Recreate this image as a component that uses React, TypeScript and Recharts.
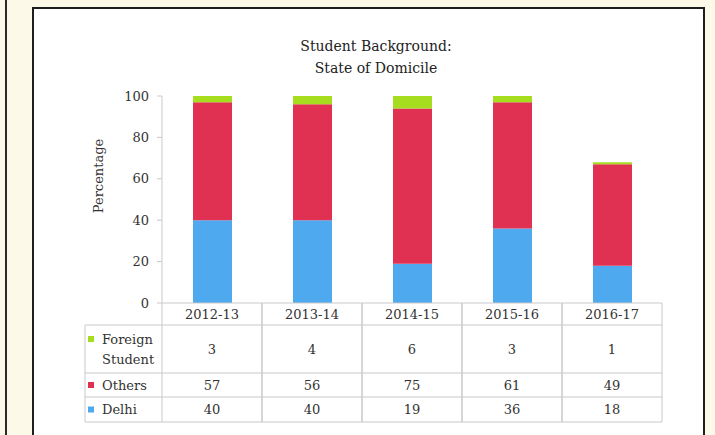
import React from 'react';
import { BarChart, Bar, XAxis, YAxis, Label } from 'recharts';

const categories = ['2012-13', '2013-14', '2014-15', '2015-16', '2016-17'];
const delhiValues = [40, 40, 19, 36, 18];
const othersValues = [57, 56, 75, 61, 49];
const foreignValues = [3, 4, 6, 3, 1];
const yTicks = [0, 20, 40, 60, 80, 100];
const titleLines = ['Student Background:', 'State of Domicile'];
const yAxisTitle = 'Percentage';

const seriesInfo = [
  { key: 'foreign', label: ['Foreign', 'Student'], color: '#a6de1f', values: foreignValues },
  { key: 'others', label: ['Others'], color: '#e03153', values: othersValues },
  { key: 'delhi', label: ['Delhi'], color: '#4ea9ef', values: delhiValues },
];

const data = categories.map((c, i) => ({
  category: c,
  delhi: delhiValues[i],
  others: othersValues[i],
  foreign: foreignValues[i],
}));

const FONT = '"DejaVu Serif", "Liberation Serif", serif';
const TEXT = '#333';
const GRID = '#c9c9c9';

// table row boundaries (offsets below axis line)
const rowBounds = [0, 22, 70, 94, 119];
const HALF = 50;
const LABEL_W = 77;

const TableTick = (props: any) => {
  const { x, y, payload, index } = props;
  const i = categories.indexOf(payload.value);
  const els: React.ReactNode[] = [];
  const bottom = y + rowBounds[4];
  els.push(<line key="vl" x1={x - HALF} x2={x - HALF} y1={y} y2={bottom} stroke={GRID} strokeWidth={1} />);
  els.push(<line key="vr" x1={x + HALF} x2={x + HALF} y1={y} y2={bottom} stroke={GRID} strokeWidth={1} />);
  for (let r = 1; r < rowBounds.length; r++) {
    els.push(
      <line key={'h' + r} x1={x - HALF} x2={x + HALF} y1={y + rowBounds[r]} y2={y + rowBounds[r]} stroke={GRID} strokeWidth={1} />
    );
  }
  els.push(
    <text key="hdr" x={x} y={y + 11} textAnchor="middle" dominantBaseline="central" fontFamily={FONT} fontSize={13} fill={TEXT}>
      {payload.value}
    </text>
  );
  seriesInfo.forEach((s, r) => {
    const cy = y + (rowBounds[r + 1] + rowBounds[r + 2]) / 2;
    els.push(
      <text key={'v' + r} x={x} y={cy} textAnchor="middle" dominantBaseline="central" fontFamily={FONT} fontSize={13} fill={TEXT}>
        {s.values[i]}
      </text>
    );
  });
  if (index === 0) {
    const lx = x - HALF - LABEL_W;
    els.push(<line key="lv" x1={lx} x2={lx} y1={y + rowBounds[1]} y2={bottom} stroke={GRID} strokeWidth={1} />);
    for (let r = 1; r < rowBounds.length; r++) {
      els.push(
        <line key={'lh' + r} x1={lx} x2={x - HALF} y1={y + rowBounds[r]} y2={y + rowBounds[r]} stroke={GRID} strokeWidth={1} />
      );
    }
    seriesInfo.forEach((s, r) => {
      const top = y + rowBounds[r + 1];
      const bot = y + rowBounds[r + 2];
      const n = s.label.length;
      const lh = 20;
      const startY = (top + bot) / 2 - ((n - 1) * lh) / 2;
      els.push(<rect key={'sw' + r} x={lx + 3} y={startY - 3} width={6} height={6} fill={s.color} />);
      s.label.forEach((t, k) => {
        els.push(
          <text key={'lt' + r + k} x={lx + 17} y={startY + k * lh} dominantBaseline="central" fontFamily={FONT} fontSize={13} fill={TEXT}>
            {t}
          </text>
        );
      });
    });
  }
  return <g>{els}</g>;
};

const YTitle = (props: any) => {
  const cx = 98;
  const cy = 176;
  return (
    <text
      x={cx}
      y={cy}
      transform={`rotate(-90 ${cx} ${cy})`}
      textAnchor="middle"
      dominantBaseline="central"
      fontFamily={FONT}
      fontSize={13}
      fill={TEXT}
    >
      {yAxisTitle}
    </text>
  );
};

export default function App() {
  return (
    <div style={{ position: 'absolute', left: 0, top: 0, width: 715, height: 435, background: '#fdf9e8', overflow: 'hidden' }}>
      <div style={{ position: 'absolute', left: 5, top: 0, width: 2, height: 435, background: '#2a2a2a' }} />
      <div
        style={{
          position: 'absolute',
          left: 32,
          top: 7,
          width: 669,
          height: 460,
          background: '#fff',
          border: '2px solid #1e1e1e',
        }}
      />
      <div
        style={{
          position: 'absolute',
          left: 256,
          top: 35,
          width: 240,
          textAlign: 'center',
          fontFamily: FONT,
          fontSize: 14,
          lineHeight: '22px',
          color: '#222',
        }}
      >
        {titleLines.map((t) => (
          <div key={t}>{t}</div>
        ))}
      </div>
      <div style={{ position: 'absolute', left: 0, top: 0 }}>
        <BarChart
          width={715}
          height={435}
          data={data}
          margin={{ top: 96, right: 53, bottom: 0, left: 0 }}
          barSize={39}
        >
          <XAxis
            dataKey="category"
            height={132}
            tickLine={false}
            tickSize={0}
            tickMargin={0}
            axisLine={{ stroke: GRID }}
            interval={0}
            tick={<TableTick />}
          />
          <YAxis
            width={162}
            domain={[0, 100]}
            ticks={yTicks}
            tickSize={5}
            tickMargin={8}
            axisLine={{ stroke: GRID }}
            tickLine={{ stroke: GRID }}
            tick={{ fontFamily: FONT, fontSize: 13, fill: TEXT }}
          >
            <Label content={<YTitle />} />
          </YAxis>
          <Bar dataKey="delhi" stackId="a" fill="#4ea9ef" isAnimationActive={false} />
          <Bar dataKey="others" stackId="a" fill="#e03153" isAnimationActive={false} />
          <Bar dataKey="foreign" stackId="a" fill="#a6de1f" isAnimationActive={false} />
        </BarChart>
      </div>
    </div>
  );
}
